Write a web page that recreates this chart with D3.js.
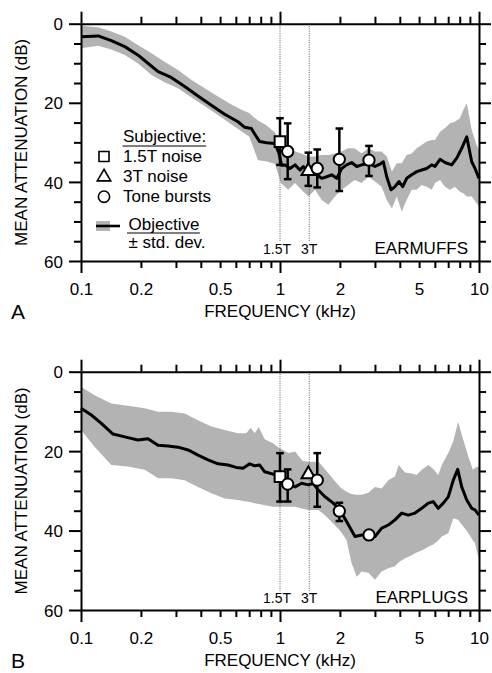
<!DOCTYPE html>
<html><head><meta charset="utf-8">
<script src="https://cdn.jsdelivr.net/npm/d3@7"></script>
<style>
html,body{margin:0;padding:0;background:#fff;}
svg{display:block;}
text{font-family:"Liberation Sans",Arial,Helvetica,sans-serif;fill:#000;}
</style>
</head><body>
<svg id="c" width="492" height="673"></svg>
<script>
// ---------- data ----------
const xTickLabels = [0.1, 0.2, 0.5, 1, 2, 5, 10];
const xMajorTicks = [0.1, 1, 10];
const xMinorTicks = [0.2,0.3,0.4,0.5,0.6,0.7,0.8,0.9,2,3,4,5,6,7,8,9];
const yMajorTicks = [0, 20, 40, 60];
const yMinorTicks = [5,10,15,25,30,35,45,50,55];
const refFreqs = [1.0, 1.403];
const refLabels = ["1.5T", "3T"];

// Panel A (earmuffs): objective mean
const meanFreqA = [0.100,0.122,0.142,0.166,0.193,0.217,0.244,0.284,0.332,0.387,0.452,0.527,0.615,0.665,0.718,0.746,0.790,0.857,0.944,0.989,1.018,1.059,1.123,1.190,1.260,1.309,1.388,1.530,1.620,1.717,1.819,1.927,2.042,2.163,2.292,2.429,2.574,2.778,3.002,3.181,3.305,3.438,3.613,3.784,3.963,4.137,4.333,4.591,4.864,5.153,5.461,5.785,6.011,6.368,6.748,7.292,7.726,8.187,8.677,9.190,9.548,10.0];
const meanDbA   = [3.3,3.1,4.3,5.8,7.9,10.0,12.1,13.6,15.9,18.3,20.6,22.9,24.8,26.2,26.5,27.9,29.8,30.1,30.3,32.8,35.8,35.7,36.6,35.7,37.0,36.1,37.4,38.2,39.1,38.7,38.2,39.1,36.6,35.7,35.1,36.1,35.7,35.3,36.1,35.5,34.9,38.7,42.0,41.2,39.9,41.2,39.1,38.2,37.4,37.0,36.6,35.7,36.1,34.3,35.1,35.7,34.0,31.5,28.6,34.9,36.6,39.1];
// Panel A: ± std. dev. band
const bandFreqA = [0.100,0.122,0.142,0.166,0.193,0.226,0.263,0.307,0.358,0.418,0.488,0.569,0.645,0.700,0.775,0.850,0.944,1.01,1.10,1.19,1.28,1.39,1.50,1.62,1.75,1.89,2.04,2.20,2.37,2.57,2.78,3.00,3.24,3.44,3.65,3.86,4.09,4.33,4.59,4.86,5.15,5.46,5.79,6.01,6.37,6.75,7.15,7.57,8.02,8.34,8.68,9.19,9.73,10.0];
const bandTopA  = [0.5,0.9,2.0,3.3,5.4,7.5,9.6,11.7,14.2,16.3,18.4,20.4,21.8,22.6,24.5,25.6,27.5,30.2,32.3,32.3,32.8,33.6,33.6,33.2,33.2,32.8,32.3,31.5,31.5,32.8,31.5,32.3,32.3,33.6,37.4,35.3,35.3,33.2,32.8,31.5,30.7,29.8,29.4,29.4,27.3,26.4,25.2,24.8,23.9,21.8,20.1,26.9,30.7,31.9];
const bandBotA  = [6.2,5.6,6.5,7.9,10.0,13.0,14.8,16.3,18.6,20.8,23.1,25.4,27.3,28.5,34.5,34.8,35.5,40.3,42.0,40.3,42.0,43.7,42.0,44.6,45.8,43.7,42.0,40.8,39.5,40.3,38.7,39.9,41.2,44.6,46.7,43.7,47.5,44.6,42.0,42.0,40.8,41.2,42.0,40.3,39.5,41.2,42.0,41.2,42.5,42.9,43.7,43.7,45.4,46.3];

// Panel B (earplugs): objective mean
const meanFreqB = [0.100,0.1127,0.1265,0.1448,0.1658,0.1934,0.2171,0.2437,0.2736,0.3072,0.3449,0.3872,0.4347,0.4880,0.5479,0.6031,0.6519,0.7044,0.7463,0.7907,0.8378,0.9222,0.977,1.101,1.190,1.285,1.388,1.470,1.557,1.683,1.853,2.002,2.163,2.382,2.574,2.778,3.002,3.244,3.502,3.784,4.089,4.412,4.769,5.153,5.563,5.893,6.244,6.616,7.009,7.428,7.816,8.187,8.677,9.190,9.548,10.0];
const meanDbB   = [9.2,10.9,13.0,15.7,16.4,17.2,16.9,18.5,18.7,19.0,19.7,21.0,22.2,23.2,23.5,24.1,24.3,23.2,23.7,23.5,25.2,25.8,26.3,28.5,29.0,28.1,28.5,28.1,29.8,31.5,33.1,34.8,37.8,41.5,41.1,41.1,41.5,39.4,38.6,37.3,35.6,36.1,35.6,34.4,33.1,32.7,34.4,33.1,31.5,27.3,24.6,29.0,32.3,34.4,34.8,36.1];
// Panel B: ± std. dev. band
const bandFreqB = [0.100,0.117,0.142,0.172,0.209,0.244,0.284,0.332,0.387,0.452,0.528,0.615,0.677,0.713,0.746,0.782,0.838,0.922,0.977,1.10,1.19,1.30,1.39,1.56,1.68,1.85,2.00,2.16,2.29,2.43,2.57,2.78,3.00,3.24,3.50,3.78,3.95,4.25,4.59,4.86,5.15,5.57,5.89,6.24,6.50,7.01,7.43,7.85,8.34,8.85,9.32,9.55,10.0];
const bandTopB  = [3.8,5.9,8.0,8.6,9.2,10.1,10.1,10.5,12.2,13.8,14.7,15.5,15.5,14.1,15.5,13.9,17.0,18.0,19.0,20.5,20.1,22.5,22.7,22.7,24.5,27.0,29.0,30.2,30.8,31.0,31.0,30.5,29.0,29.4,27.3,26.4,23.5,25.4,25.6,26.0,24.7,23.5,24.5,26.0,23.5,20.5,17.5,12.6,17.2,21.4,24.7,24.2,23.9];
const bandBotB  = [14.7,18.9,23.5,23.9,24.7,26.8,26.8,27.3,29.0,30.6,31.9,32.3,32.7,32.9,33.1,33.3,33.6,34.0,34.0,34.0,34.0,34.5,34.8,34.8,36.1,38.2,40.0,42.4,48.2,51.6,50.3,50.6,52.4,50.3,49.5,49.0,48.0,47.0,46.2,45.5,45.0,44.1,43.5,42.5,41.5,40.7,36.9,37.3,39.0,40.7,42.5,43.2,47.4];

// Subjective points
const subjFreq  = [1.0, 1.093, 1.388, 1.539, 1.987, 2.8];
const subjShape = ["square","circle","triangle","circle","circle","circle"];
const subjDbA = [29.8, 32.3, 37.0, 36.6, 34.3, 34.5];
const subjLoA = [23.9, 25.2, 32.6, 31.8, 26.5, 30.9];
const subjHiA = [35.7, 39.3, 41.0, 41.4, 42.3, 38.5];
const subjDbB = [26.4, 28.3, 25.6, 27.3, 35.1, 41.1];
const subjLoB = [20.5, 24.6, null, 20.5, 33.0, null];
const subjHiB = [32.7, 32.7, null, 34.0, 37.6, null];

const legendSubj = ["1.5T noise", "3T noise", "Tone bursts"];
const legendShapes = ["square", "triangle", "circle"];

// ---------- drawing ----------
const svg = d3.select("#c");
svg.append("rect").attr("width",492).attr("height",673).attr("fill","#fff");
const FONT = 17;
const BAND = "#b3b3b3";
const x = d3.scaleLog().domain([0.1, 10]).range([81, 479]);

const symType = {square: d3.symbolSquare, circle: d3.symbolCircle, triangle: d3.symbolTriangle};
const symSize = {square: 115, circle: 100, triangle: 80};

const panels = [
  {top: 23.7, bottom: 261, mf: meanFreqA, md: meanDbA, bf: bandFreqA, bt: bandTopA, bb: bandBotA,
   sd: subjDbA, slo: subjLoA, shi: subjHiA, name: "EARMUFFS", letter: "A", legend: true},
  {top: 371.7, bottom: 610, mf: meanFreqB, md: meanDbB, bf: bandFreqB, bt: bandTopB, bb: bandBotB,
   sd: subjDbB, slo: subjLoB, shi: subjHiB, name: "EARPLUGS", letter: "B", legend: false}
];

function styleAxis(sel, keepDomain) {
  sel.attr("font-size", FONT).attr("font-family", null);
  sel.selectAll("line").attr("stroke", "#000").attr("stroke-width", 2);
  if (keepDomain) sel.select(".domain").attr("stroke", "#000").attr("stroke-width", 2);
  else sel.select(".domain").remove();
}

panels.forEach(p => {
  const y = d3.scaleLinear().domain([0, 60]).range([p.top, p.bottom]);
  const g = svg.append("g");

  // std band
  g.append("path")
    .datum(d3.range(p.bf.length))
    .attr("d", d3.area().x(i => x(p.bf[i])).y0(i => y(p.bt[i])).y1(i => y(p.bb[i])))
    .attr("fill", BAND);

  // reference dotted lines
  refFreqs.forEach(f => {
    g.append("line")
      .attr("x1", x(f)).attr("x2", x(f))
      .attr("y1", y(0)).attr("y2", y(55.2))
      .attr("stroke", "#333").attr("stroke-width", 0.8)
      .attr("stroke-dasharray", "1,1.3");
  });

  // mean line
  g.append("path")
    .datum(d3.range(p.mf.length))
    .attr("d", d3.line().x(i => x(p.mf[i])).y(i => y(p.md[i])))
    .attr("fill", "none").attr("stroke", "#000").attr("stroke-width", 3)
    .attr("stroke-linejoin", "round");

  // error bars
  subjFreq.forEach((f, i) => {
    if (p.slo[i] == null) return;
    const xx = x(f);
    g.append("line").attr("x1", xx).attr("x2", xx).attr("y1", y(p.slo[i])).attr("y2", y(p.shi[i]))
      .attr("stroke", "#000").attr("stroke-width", 2.5);
    [p.slo[i], p.shi[i]].forEach(v => {
      g.append("line").attr("x1", xx - 3.8).attr("x2", xx + 3.8).attr("y1", y(v)).attr("y2", y(v))
        .attr("stroke", "#000").attr("stroke-width", 2.5);
    });
  });
  // markers
  subjFreq.forEach((f, i) => {
    const s = subjShape[i];
    g.append("path")
      .attr("d", d3.symbol().type(symType[s]).size(symSize[s])())
      .attr("transform", `translate(${x(f)},${y(p.sd[i]) + (s === "triangle" ? 1 : 0)})`)
      .attr("fill", "#fff").attr("stroke", "#000").attr("stroke-width", 2);
  });

  // axes
  const bot = g.append("g").attr("transform", `translate(0,${p.bottom})`);
  bot.append("g").call(d3.axisBottom(x).tickValues(xMajorTicks).tickSize(12).tickSizeOuter(0).tickFormat("")).call(s => styleAxis(s, true));
  bot.append("g").call(d3.axisBottom(x).tickValues(xMinorTicks).tickSize(7).tickFormat("")).call(s => styleAxis(s, false));
  bot.append("g").call(d3.axisBottom(x).tickValues(xTickLabels).tickSize(0).tickFormat(d => String(d)))
    .call(s => { styleAxis(s, false); s.selectAll("line").remove(); s.selectAll("text").attr("y", 34).attr("dy", 0); });

  const topAx = g.append("g").attr("transform", `translate(0,${p.top})`);
  topAx.append("g").call(d3.axisTop(x).tickValues(xMajorTicks).tickSize(12).tickSizeOuter(0).tickFormat("")).call(s => styleAxis(s, true));
  topAx.append("g").call(d3.axisTop(x).tickValues(xMinorTicks).tickSize(7).tickFormat("")).call(s => styleAxis(s, false));

  const left = g.append("g").attr("transform", `translate(81,0)`);
  left.append("g").call(d3.axisLeft(y).tickValues(yMajorTicks).tickSize(12).tickSizeOuter(0).tickFormat(d3.format("d")))
    .call(s => { styleAxis(s, true); s.selectAll("text").attr("x", -18).attr("dy", "0.36em"); });
  left.append("g").call(d3.axisLeft(y).tickValues(yMinorTicks).tickSize(7).tickFormat("")).call(s => styleAxis(s, false));

  const right = g.append("g").attr("transform", `translate(479,0)`);
  right.append("g").call(d3.axisRight(y).tickValues(yMajorTicks).tickSize(12).tickSizeOuter(0).tickFormat("")).call(s => styleAxis(s, true));
  right.append("g").call(d3.axisRight(y).tickValues(yMinorTicks).tickSize(7).tickFormat("")).call(s => styleAxis(s, false));

  // reference labels
  refFreqs.forEach((f, i) => {
    g.append("text").attr("x", x(f) + (i === 0 ? -3 : 0)).attr("y", p.bottom - 7)
      .attr("text-anchor", "middle").attr("font-size", 14).text(refLabels[i]);
  });
  g.append("text").attr("x", 468).attr("y", p.bottom - 7).attr("text-anchor", "end")
    .attr("font-size", FONT).text(p.name);

  // axis titles
  g.append("text").attr("transform", `translate(27,${(p.top + p.bottom) / 2}) rotate(-90)`)
    .attr("text-anchor", "middle").attr("font-size", FONT).text("MEAN ATTENUATION (dB)");
  g.append("text").attr("x", 280).attr("y", p.bottom + 56).attr("text-anchor", "middle")
    .attr("font-size", FONT).text("FREQUENCY (kHz)");
  g.append("text").attr("x", 11).attr("y", p.bottom + 58).attr("font-size", 21).text(p.letter);

  // legend
  if (p.legend) {
    const lg = g.append("g");
    const t0 = lg.append("text").attr("x", 123).attr("y", 142).attr("font-size", FONT).text("Subjective:");
    const w0 = t0.node().getComputedTextLength();
    lg.append("line").attr("x1", 122.5).attr("x2", 123 + w0).attr("y1", 146).attr("y2", 146)
      .attr("stroke", "#000").attr("stroke-width", 1.2);
    const ys = [161.5, 181.5, 202];
    const cy = [156.5, 177, 196.7];
    legendSubj.forEach((lab, i) => {
      lg.append("text").attr("x", 123).attr("y", ys[i]).attr("font-size", FONT).text(lab);
      const s = legendShapes[i];
      lg.append("path").attr("d", d3.symbol().type(symType[s]).size(s === "triangle" ? 78 : 100)())
        .attr("transform", `translate(104,${cy[i]})`)
        .attr("fill", "#fff").attr("stroke", "#000").attr("stroke-width", 1.6);
    });
    lg.append("rect").attr("x", 96).attr("y", 221).attr("width", 14).attr("height", 10).attr("fill", BAND);
    lg.append("line").attr("x1", 96).attr("x2", 120).attr("y1", 226).attr("y2", 226)
      .attr("stroke", "#000").attr("stroke-width", 2.6);
    const t1 = lg.append("text").attr("x", 128.5).attr("y", 229.5).attr("font-size", FONT).text("Objective");
    const w1 = t1.node().getComputedTextLength();
    lg.append("line").attr("x1", 127).attr("x2", 129 + w1).attr("y1", 233).attr("y2", 233)
      .attr("stroke", "#000").attr("stroke-width", 1.2);
    lg.append("text").attr("x", 128.5).attr("y", 247.5).attr("font-size", FONT).text("\u00b1 std. dev.");
  }
});
</script>
</body></html>
